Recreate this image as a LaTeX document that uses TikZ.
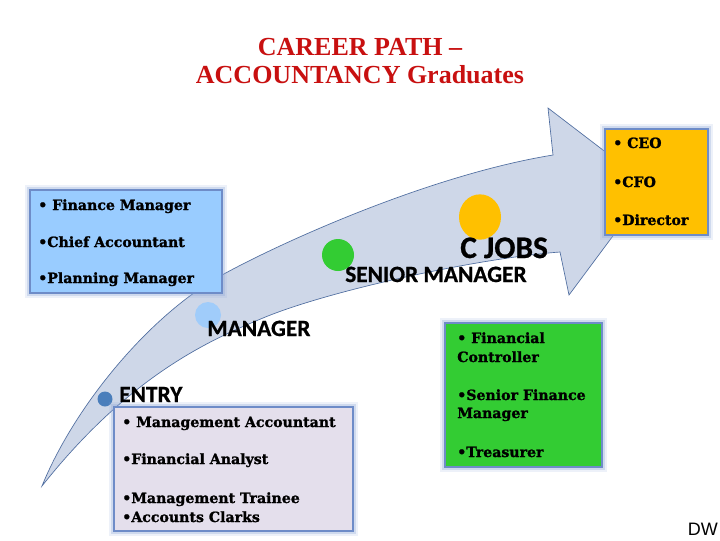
\documentclass[tikz,border=0pt]{standalone}
\usepackage{fontspec}
\usetikzlibrary{shapes.geometric}
\setmainfont{Liberation Serif}
\newfontfamily\boxfont{DejaVu Serif}[BoldFeatures={FakeBold=1.3}]
\newfontfamily\labfont{Carlito}[BoldFeatures={FakeBold=0.8}]
\newfontfamily\dwfont{Liberation Sans}
\definecolor{titlered}{RGB}{200,16,16}
\definecolor{arrowfill}{RGB}{206,215,232}
\definecolor{arrowline}{RGB}{80,110,160}
\definecolor{finblue}{RGB}{153,204,255}
\definecolor{ceoyellow}{RGB}{255,192,0}
\definecolor{srgreen}{RGB}{51,204,51}
\definecolor{entrylav}{RGB}{228,223,236}
\definecolor{boxborder}{RGB}{110,140,200}
\definecolor{glowcol}{RGB}{140,165,215}
\definecolor{entrydot}{RGB}{74,126,187}
\definecolor{mgrdot}{RGB}{160,204,250}
\begin{document}
\begin{tikzpicture}[x=0.75pt,y=-0.75pt,
  cardbox/.style={draw=boxborder, line width=0.9pt, fill=#1,
    preaction={draw=glowcol, line width=7pt, draw opacity=0.15},
    preaction={draw=glowcol, line width=4pt, draw opacity=0.3}},
  boxtxt/.style={anchor=base west, inner sep=0pt, font=\boxfont\bfseries\fontsize{10.6}{12}\selectfont},
  levtxt/.style={anchor=base west, inner sep=0pt, font=\labfont\bfseries\fontsize{17.5}{20}\selectfont},
  dot/.style={circle, inner sep=0pt, minimum size=#1, draw=none},
  titletxt/.style={anchor=base, inner sep=0pt, text=titlered, font=\bfseries\fontsize{19.5}{22}\selectfont}
]
\useasboundingbox (0,0) rectangle (720,540);
\fill[white] (0,0) rectangle (720,540);

% title
\node[titletxt] (t1) at (360,55) {CAREER PATH –};
\node[titletxt] (t2) at (360,83) {ACCOUNTANCY Graduates};

% curved arrow
\filldraw[fill=arrowfill, draw=arrowline, line width=0.5pt, line join=miter]
  (42,486) .. controls (75,405) and (150,315) .. (222,275)
  .. controls (282,242) and (430,175) .. (553,155)
  -- (548,108) -- (650,186) -- (569,295) -- (560,252)
  .. controls (480,258) and (330,290) .. (263,318)
  .. controls (210,340) and (130,375) .. (42,486) -- cycle;

% dots
\node[dot=11.25pt, fill=entrydot] (dE) at (105,399) {};
\node[dot=19.5pt, fill=mgrdot] (dM) at (208,315) {};
\node[dot=24pt, fill=srgreen] (dS) at (338,255) {};
\node[ellipse, inner sep=0pt, minimum width=31.5pt, minimum height=34pt, fill=ceoyellow] (dC) at (480,217) {};

% level labels
\node[levtxt] (lE) at (119,402) {ENTRY};
\node[levtxt] (lM) at (207,336) {MANAGER};
\node[levtxt] (lS) at (345,282) {SENIOR MANAGER};
\node[anchor=base west, inner sep=0pt, font=\labfont\bfseries\fontsize{23.5}{26}\selectfont] (lC) at (460,258) {C JOBS};

% boxes
\draw[cardbox=finblue] (30,190) rectangle (222,293);
\node[boxtxt] (f1) at (38,210) {• Finance Manager};
\node[boxtxt] (f2) at (38,247) {•Chief Accountant};
\node[boxtxt] (f3) at (38,283) {•Planning Manager};

\draw[cardbox=ceoyellow] (605,129) rectangle (708,235);
\node[boxtxt] (c1) at (613,148) {• CEO};
\node[boxtxt] (c2) at (613,187) {•CFO};
\node[boxtxt] (c3) at (613,225) {•Director};

\draw[cardbox=srgreen] (445,323) rectangle (602,467);
\node[boxtxt] (g1) at (457,343) {• Financial};
\node[boxtxt] (g2) at (457,362) {Controller};
\node[boxtxt] (g3) at (457,400) {•Senior Finance};
\node[boxtxt] (g4) at (457,418) {Manager};
\node[boxtxt] (g5) at (457,457) {•Treasurer};

\draw[cardbox=entrylav] (114,407) rectangle (353,531);
\node[boxtxt] (e1) at (122,427) {• Management Accountant};
\node[boxtxt] (e2) at (122,464) {•Financial Analyst};
\node[boxtxt] (e3) at (122,503) {•Management Trainee};
\node[boxtxt] (e4) at (122,522) {•Accounts Clarks};

\node[anchor=base east, inner sep=0pt, font=\dwfont\fontsize{13.5}{15}\selectfont] (dw) at (718,535) {DW};
\end{tikzpicture}
\end{document}
